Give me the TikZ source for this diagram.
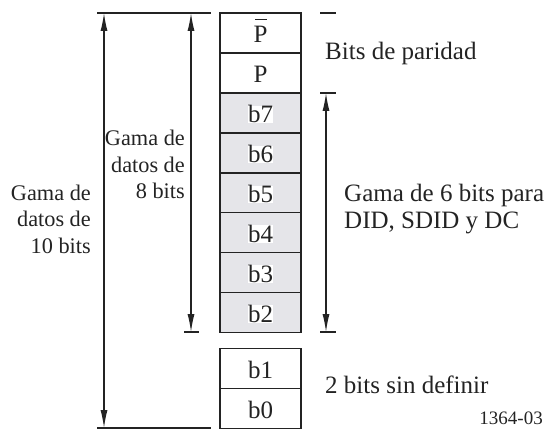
\documentclass[tikz,border=0pt]{standalone}
\usepackage{fontspec}
\setmainfont{Liberation Serif}
\usetikzlibrary{arrows.meta}
\definecolor{cellgray}{RGB}{229,229,233}
\definecolor{linegray}{RGB}{35,35,35}

\begin{document}
\begin{tikzpicture}[x=1pt,y=-1pt,
    every node/.style={font=\fontsize{25}{26.5}\selectfont, text=linegray},
    cell/.style={draw=linegray, line width=1.2pt, minimum width=81pt, minimum height=40pt, inner sep=0pt},
    bit/.style={fill=white, inner sep=0pt, anchor=base},
    sidelabel/.style={anchor=base east, align=right, inner sep=0pt, font=\fontsize{22.3}{26.5}\selectfont},
    spanarrow/.style={linegray, line width=1.2pt, {Latex[length=18pt,width=7pt]}-{Latex[length=18pt,width=7pt]}},
    tickline/.style={linegray, line width=1.2pt}]
  \useasboundingbox (0,0) rectangle (545,430);

  % Define the cells of the word, top to bottom
  \foreach \n/\t/\y/\f in {pb/P/33/white, p/P/73/white,
      b7/b7/113/cellgray, b6/b6/153/cellgray, b5/b5/193/cellgray,
      b4/b4/232.5/cellgray, b3/b3/272.5/cellgray, b2/b2/312.5/cellgray,
      b1/b1/368.5/white, b0/b0/408.5/white}
  {
    \node[cell, fill=\f] (\n) at (260.5,\y) {};
    \node[bit] (\n-txt) at (260.5,\y+10) {\t};
  }
  % Bar over the inverted parity bit
  \draw[linegray, line width=1.1pt] ([xshift=2pt,yshift=7pt]pb-txt.north west) -- ([xshift=-1pt,yshift=7pt]pb-txt.north east);

  % End points of the ranges
  \coordinate (tenTop) at (104,13);
  \coordinate (tenBot) at (104,428);
  \coordinate (eightTop) at (191,13);
  \coordinate (eightBot) at (191,332);
  \coordinate (sixTop) at (326,93);
  \coordinate (sixBot) at (326,332);

  % Ticks that close the ranges
  \draw[tickline] (97,13) -- (211,13);
  \draw[tickline] (97,428) -- (211,428);
  \draw[tickline] (184,332) -- (199,332);
  \draw[tickline] (320,13) -- (336,13);
  \draw[tickline] (320,93) -- (336,93);
  \draw[tickline] (320,332) -- (336,332);

  % Range arrows
  \draw[spanarrow] (tenTop) -- (tenBot);
  \draw[spanarrow] (eightTop) -- (eightBot);
  \draw[spanarrow] (sixTop) -- (sixBot);

  % Labels
  \node[sidelabel] (ten) at (91,253) {Gama de\\datos de\\10 bits};
  \node[sidelabel] (eight) at (185,199) {Gama de\\datos de\\8 bits};
  \node[anchor=base west, inner sep=0pt] (parity) at (325,60) {Bits de paridad};
  \node[anchor=base west, align=left, inner sep=0pt] (six) at (344,228) {Gama de 6 bits para\\DID, SDID y DC};
  \node[anchor=base west, inner sep=0pt] (undef) at (325,393) {2 bits sin definir};
  \node[anchor=base east, inner sep=0pt, font=\fontsize{19}{20}\selectfont] (fig) at (543,424) {1364-03};
\end{tikzpicture}
\end{document}
